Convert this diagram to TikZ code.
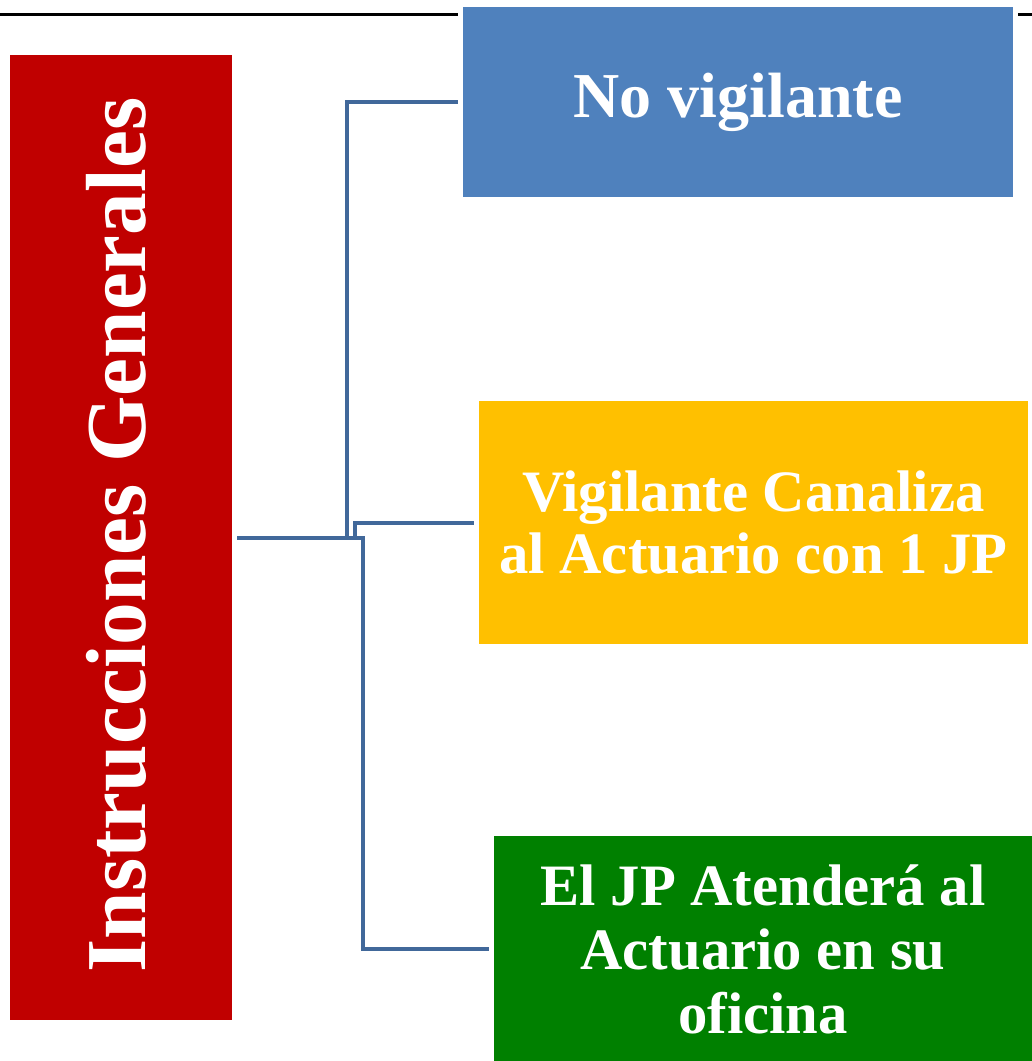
\documentclass[tikz,border=0pt]{standalone}
\usepackage{fontspec}
\setmainfont{Liberation Serif}
\usetikzlibrary{backgrounds}
\definecolor{instrred}{HTML}{C00000}
\definecolor{novigblue}{HTML}{4F81BD}
\definecolor{canalyellow}{HTML}{FFC000}
\definecolor{atiendegreen}{HTML}{008000}
\definecolor{connblue}{HTML}{41689A}
\tikzset{
  box/.style={draw=white, line width=3.75pt, inner sep=0pt, outer sep=0pt,
    text=white, align=center, font=\bfseries\fontsize{44}{47}\selectfont},
  conn/.style={draw=connblue, line width=3pt}
}

\begin{document}
\begin{tikzpicture}[x=0.75pt,y=-0.75pt]
        \useasboundingbox (0,0) rectangle (1032,1061);
        \node[box, fill=instrred, minimum width=170.25pt, minimum height=727.5pt]
        (instr) at (121,537.5) {}; \node[text=white, rotate=90,
        font=\bfseries\fontsize{64}{64}\selectfont] (instrtitle) at (116,535)
        {Instrucciones Generales}; \node[box, fill=novigblue, minimum
        width=416.25pt, minimum height=146.25pt,
        font=\bfseries\fontsize{48}{47}\selectfont] (novig) at (738,102) {No
        vigilante}; \node[box, fill=canalyellow, minimum width=415.5pt, minimum
        height=186pt] (canal) at (753.5,522.5) {Vigilante Canaliza\\al
        Actuario con 1 JP}; \node[box, fill=atiendegreen, minimum
        width=407.25pt, minimum height=173.25pt,
        font=\bfseries\fontsize{44}{48}\selectfont] (atiende) at (763,949) {El
        JP Atenderá al\\Actuario en su\\oficina};
        \begin{scope}[on background layer]
          \coordinate (ruleL) at (0,14); \coordinate (ruleR) at (1032,14);
          \draw[line width=2.25pt] (ruleL) -- (ruleR);
          \draw[conn] (instr.east) -- ++(112.5,0) |- (novig.west);
          \draw[conn] (instr.east) -- ++(120.5,0) |- (canal.west);
          \draw[conn] (instr.east) -- ++(128.5,0) |- (atiende.west);
        \end{scope}
      \end{tikzpicture}
\end{document}
